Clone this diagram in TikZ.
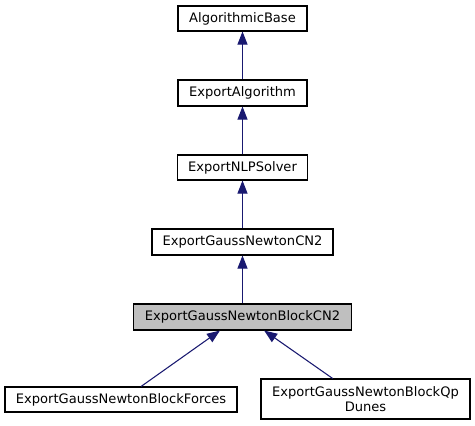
\documentclass[tikz,border=0pt]{standalone}
\usepackage{fontspec}
\setmainfont{DejaVu Sans}
\usetikzlibrary{arrows.meta}
\definecolor{edgeblue}{HTML}{191970}
\definecolor{hilite}{HTML}{BFBFBF}
\tikzset{
  cls/.style={draw=black, line width=0.8pt, fill=white, inner sep=0pt, align=center,
    font=\fontsize{9.8}{11.5}\selectfont},
  inherit/.style={draw=edgeblue, line width=0.8pt, -{Triangle[length=9.75pt, width=7.5pt]}}
}
\begin{document}
\begin{tikzpicture}[x=0.75pt, y=-0.75pt]
            \useasboundingbox (0, 0) rectangle (475, 425);
            \node[cls, minimum width=96.75pt, minimum height=18.75pt] (base) at (242.5, 18.5) {AlgorithmicBase};
            \node[cls, minimum width=96.75pt, minimum height=19.5pt] (algo) at (242.5, 93) {ExportAlgorithm};
            \node[cls, minimum width=97.5pt, minimum height=18.75pt] (nlp) at (242.5, 167.5) {ExportNLPSolver};
            \node[cls, minimum width=135.75pt, minimum height=19.5pt] (cn2) at (242.5, 242) {ExportGaussNewtonCN2};
            \node[cls, fill=hilite, minimum width=163.5pt, minimum height=19.5pt] (block) at (242.5, 317) {ExportGaussNewtonBlockCN2};
            \node[cls, minimum width=174pt, minimum height=18.75pt] (forces) at (121, 399.5) {ExportGaussNewtonBlockForces};
            \node[cls, minimum width=156.75pt, minimum height=30pt] (qp) at (365.5, 399) {ExportGaussNewtonBlockQp\\Dunes};
            \draw[inherit] (algo) -- (base);
            \draw[inherit] (nlp) -- (algo);
            \draw[inherit] (cn2) -- (nlp);
            \draw[inherit] (block) -- (cn2);
            \draw[inherit] (forces.33) -- (block.211);
            \draw[inherit] (qp.148) -- (block.328);
          \end{tikzpicture}
\end{document}
